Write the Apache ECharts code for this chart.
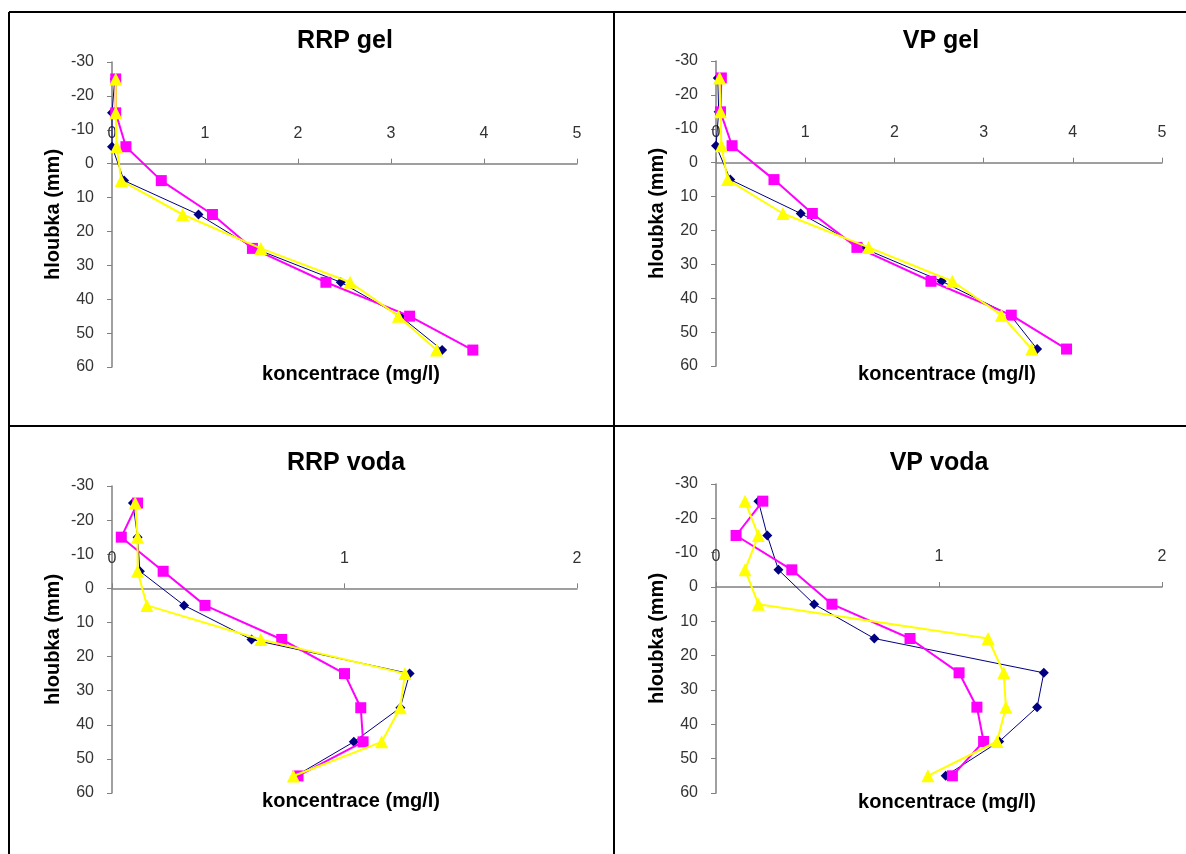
<!DOCTYPE html>
<html>
<head>
<meta charset="utf-8">
<script src="https://cdn.jsdelivr.net/npm/echarts@6/dist/echarts.min.js"></script>
<style>
html,body{margin:0;padding:0;background:#fff;}
#chart{width:1186px;height:854px;}
</style>
</head>
<body>
<div id="chart"></div>
<script>
// Depths (mm), shared by all panels
const depths = [-25, -15, -5, 5, 15, 25, 35, 45, 55];

const panelTitles = ['RRP gel', 'VP gel', 'RRP voda', 'VP voda'];
const xMaxes = [5, 5, 2, 2];
const yMin = -30, yMax = 60;
const xAxisName = 'koncentrace (mg/l)';
const yAxisName = 'hloubka (mm)';

// RRP gel
const rrpGelBlue    = [0.03, 0.00, 0.00, 0.13, 0.93, 1.53, 2.46, 3.10, 3.55];
const rrpGelMagenta = [0.04, 0.04, 0.15, 0.53, 1.08, 1.51, 2.30, 3.20, 3.88];
const rrpGelYellow  = [0.04, 0.04, 0.05, 0.10, 0.76, 1.60, 2.56, 3.08, 3.49];
// VP gel
const vpGelBlue     = [0.02, 0.03, 0.00, 0.16, 0.95, 1.63, 2.53, 3.30, 3.60];
const vpGelMagenta  = [0.06, 0.05, 0.18, 0.65, 1.08, 1.58, 2.41, 3.31, 3.93];
const vpGelYellow   = [0.04, 0.05, 0.06, 0.13, 0.75, 1.71, 2.65, 3.20, 3.54];
// RRP voda
const rrpVodaBlue    = [0.09, 0.11, 0.12, 0.31, 0.60, 1.28, 1.24, 1.04, 0.79];
const rrpVodaMagenta = [0.11, 0.04, 0.22, 0.40, 0.73, 1.00, 1.07, 1.08, 0.80];
const rrpVodaYellow  = [0.10, 0.11, 0.11, 0.15, 0.64, 1.26, 1.24, 1.16, 0.78];
// VP voda
const vpVodaBlue     = [0.19, 0.23, 0.28, 0.44, 0.71, 1.47, 1.44, 1.27, 1.03];
const vpVodaMagenta  = [0.21, 0.09, 0.34, 0.52, 0.87, 1.09, 1.17, 1.20, 1.06];
const vpVodaYellow   = [0.13, 0.19, 0.13, 0.19, 1.22, 1.29, 1.30, 1.26, 0.95];

const panelData = [
  [rrpGelBlue, rrpGelMagenta, rrpGelYellow],
  [vpGelBlue, vpGelMagenta, vpGelYellow],
  [rrpVodaBlue, rrpVodaMagenta, rrpVodaYellow],
  [vpVodaBlue, vpVodaMagenta, vpVodaYellow]
];

// Layout (pixels)
const grids = [
  {left: 112, top: 62, width: 465, height: 305},
  {left: 716, top: 61, width: 446, height: 305},
  {left: 112, top: 486, width: 465, height: 307},
  {left: 716, top: 484, width: 446, height: 309}
];
const titlePos = [[345, 41], [941, 41], [346, 463], [939, 463]];
const xNamePos = [[351, 374], [947, 374], [351, 801], [947, 802]];

const FONT = '"Liberation Sans", Arial, sans-serif';
const styles = [
  {color: '#000080', symbol: 'diamond', size: 10, width: 1},
  {color: '#FF00FF', symbol: 'rect', size: 11, width: 2},
  {color: '#FFFF00', symbol: 'triangle', size: 13, width: 2}
];

const xAxes = [], yAxes = [], series = [], graphics = [];
for (let p = 0; p < 4; p++) {
  // x axis sits on depth 0: shift it down from the grid top by the zero position
  const zeroOffset = grids[p].height * (0 - yMin) / (yMax - yMin);
  xAxes.push({
    type: 'value', gridIndex: p, min: 0, max: xMaxes[p], interval: 1,
    position: 'top', offset: -zeroOffset,
    axisLine: {show: true, onZero: false, lineStyle: {color: '#808080', width: 1.5}},
    axisTick: {show: true, inside: false, length: 5, lineStyle: {color: '#808080'}},
    axisLabel: {color: '#333', fontFamily: FONT, fontSize: 16, margin: 22},
    splitLine: {show: false}
  });
  yAxes.push({
    type: 'value', gridIndex: p, min: yMin, max: yMax, interval: 10, inverse: true,
    axisLine: {show: true, onZero: false, lineStyle: {color: '#808080', width: 1.5}},
    axisTick: {show: true, inside: false, length: 5, lineStyle: {color: '#808080'}},
    axisLabel: {color: '#333', fontFamily: FONT, fontSize: 16, margin: 18},
    splitLine: {show: false},
    name: yAxisName, nameLocation: 'middle', nameGap: 49, nameRotate: 90,
    nameTextStyle: {fontFamily: FONT, fontSize: 20, fontWeight: 'bold', color: '#000'}
  });
  for (let s = 0; s < 3; s++) {
    const st = styles[s];
    series.push({
      type: 'line', xAxisIndex: p, yAxisIndex: p,
      data: depths.map((d, i) => [panelData[p][s][i], d]),
      symbol: st.symbol, symbolSize: st.size, showSymbol: true,
      lineStyle: {color: st.color, width: st.width},
      itemStyle: {color: st.color, borderWidth: 0},
      animation: false, silent: true, z: 2 + s
    });
  }
  graphics.push({
    type: 'text', x: titlePos[p][0], y: titlePos[p][1],
    style: {text: panelTitles[p], font: 'bold 25px ' + FONT, fill: '#000',
            textAlign: 'center', textVerticalAlign: 'middle'}
  });
  graphics.push({
    type: 'text', x: xNamePos[p][0], y: xNamePos[p][1],
    style: {text: xAxisName, font: 'bold 20px ' + FONT, fill: '#000',
            textAlign: 'center', textVerticalAlign: 'middle'}
  });
}

// Panel frame lines
const lineStyle = {stroke: '#000', lineWidth: 2};
graphics.push({type: 'line', shape: {x1: 9, y1: 12, x2: 1186, y2: 12}, style: lineStyle});
graphics.push({type: 'line', shape: {x1: 9, y1: 12, x2: 9, y2: 854}, style: lineStyle});
graphics.push({type: 'line', shape: {x1: 614, y1: 12, x2: 614, y2: 854}, style: lineStyle});
graphics.push({type: 'line', shape: {x1: 9, y1: 426, x2: 1186, y2: 426}, style: lineStyle});

const chart = echarts.init(document.getElementById('chart'));
chart.setOption({
  animation: false,
  backgroundColor: '#fff',
  grid: grids,
  xAxis: xAxes,
  yAxis: yAxes,
  series: series,
  graphic: graphics
});
</script>
</body>
</html>
